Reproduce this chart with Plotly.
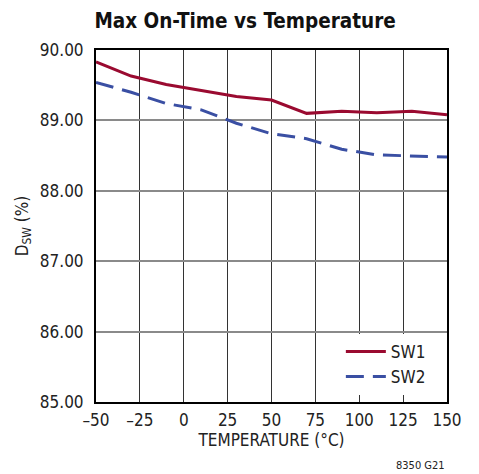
import plotly.graph_objects as go

temps = [-50, -30, -10, 10, 30, 50, 70, 90, 110, 130, 150]
sw1 = [89.83, 89.63, 89.51, 89.42, 89.34, 89.29, 89.10, 89.13, 89.11, 89.13, 89.08]
sw2 = [89.54, 89.40, 89.24, 89.15, 88.96, 88.81, 88.74, 88.59, 88.51, 88.50, 88.48]
x_ticks = [-50, -25, 0, 25, 50, 75, 100, 125, 150]
x_tick_labels = ["\u201350", "\u201325", "0", "25", "50", "75", "100", "125", "150"]
y_ticks = [85, 86, 87, 88, 89, 90]
y_tick_labels = ["85.00", "86.00", "87.00", "88.00", "89.00", "90.00"]

FONT = "DejaVu Sans Condensed, Liberation Sans Narrow, sans-serif"

fig = go.Figure()
fig.add_trace(go.Scatter(x=temps, y=sw1, mode="lines", name="SW1",
                         line=dict(color="#9a0a30", width=3)))
fig.add_trace(go.Scatter(x=temps, y=sw2, mode="lines", name="SW2",
                         line=dict(color="#3a4fa3", width=3, dash="18px,9px")))

fig.update_layout(
    width=479, height=474,
    margin=dict(l=88, r=40, t=42, b=80, autoexpand=False),
    paper_bgcolor="white", plot_bgcolor="white",
    font=dict(family=FONT, size=17, color="#222"),
    title=dict(text="<b>Max On-Time vs Temperature</b>", x=0.495, xanchor="center",
               y=0.973, yanchor="middle", font=dict(family=FONT, size=20.5, color="#111")),
    showlegend=True,
    legend=dict(x=0.954, y=0.02, xanchor="right", yanchor="bottom",
                bgcolor="white", font=dict(size=17, color="#222"),
                tracegroupgap=0, itemwidth=40),
    xaxis=dict(range=[-50, 150], tickvals=x_ticks, ticktext=x_tick_labels,
               showgrid=True, gridcolor="#333", gridwidth=1.3,
               showline=True, linecolor="black", linewidth=2, mirror=True,
               zeroline=False, ticks="", ticklabelstandoff=2, automargin=False,
               title=dict(text="TEMPERATURE (°C)", standoff=4, font=dict(size=17))),
    yaxis=dict(range=[85, 90], tickvals=y_ticks, ticktext=y_tick_labels,
               showgrid=True, gridcolor="#8a8a8a", gridwidth=1.6,
               showline=True, linecolor="black", linewidth=2, mirror=True,
               zeroline=False, ticks="", ticklabelstandoff=7, automargin=False,
               title=dict(text="D<sub>SW</sub> (%)", standoff=7, font=dict(size=17))),
)

fig.add_annotation(text="8350 G21", xref="paper", yref="paper", x=1.0, y=-0.179,
                   xanchor="right", yanchor="middle", showarrow=False,
                   font=dict(family=FONT, size=11, color="#222"))

fig.write_html("out.html")
